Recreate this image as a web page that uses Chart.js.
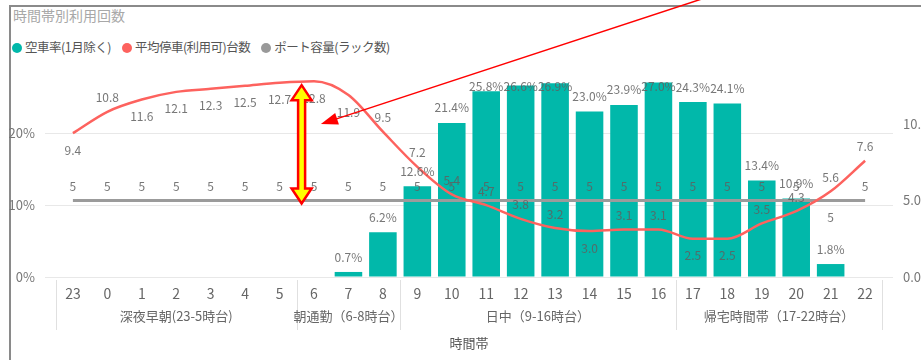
<!DOCTYPE html>
<html lang="ja">
<head>
<meta charset="utf-8">
<title>時間帯別利用回数</title>
<script src="https://cdn.jsdelivr.net/npm/chart.js@4.4.1/dist/chart.umd.min.js"></script>
<style>
  html, body { margin: 0; padding: 0; background: #fff; width: 921px; height: 360px; overflow: hidden; }
  #frame { position: absolute; left: 9px; top: 5px; width: 1000px; height: 400px; border-left: 2px solid #8a8a8a; border-top: 2px solid #8a8a8a; }
  #title { position: absolute; left: 13px; top: 5px; line-height: 20px; font: 14px "Noto Sans CJK JP"; color: #a8a8a8; }
  #legend { position: absolute; left: 12px; top: 38px; display: flex; gap: 11px; }
  .lg { line-height: 18px; font-size: 12.5px; letter-spacing: -0.5px; font-family: "Noto Sans CJK JP"; color: #555; white-space: nowrap; }
  .lg i { display: inline-block; width: 10px; height: 10px; border-radius: 50%; margin-right: 3px; vertical-align: -1px; }
  #chart { position: absolute; left: 0; top: 0; }
</style>
</head>
<body>
<div id="frame"></div>
<div id="title">時間帯別利用回数</div>
<div id="legend">
  <div class="lg"><i style="background:#01B8AA"></i>空車率(1月除く)</div>
  <div class="lg"><i style="background:#FD625E"></i>平均停車(利用可)台数</div>
  <div class="lg"><i style="background:#999"></i>ポート容量(ラック数)</div>
</div>
<canvas id="chart" width="935" height="360"></canvas>
<script>
const FONT = '"Noto Sans CJK JP", "Noto Sans", sans-serif';

// 時間帯 (23時〜22時)
const hours = ['23', '0', '1', '2', '3', '4', '5', '6', '7', '8', '9', '10', '11',
  '12', '13', '14', '15', '16', '17', '18', '19', '20', '21', '22'];

// 空車率(1月除く) %
const vacancyRate = [null, null, null, null, null, null, null, null, 0.7, 6.2, 12.6, 21.4,
  25.8, 26.6, 26.9, 23.0, 23.9, 27.0, 24.3, 24.1, 13.4, 10.9, 1.8, null];

// 平均停車(利用可)台数
const avgParked = [9.4, 10.8, 11.6, 12.1, 12.3, 12.5, 12.7, 12.8, 11.9, 9.5, 7.2, 5.4,
  4.7, 3.8, 3.2, 3.0, 3.1, 3.1, 2.5, 2.5, 3.5, 4.3, 5.6, 7.6];

// ポート容量(ラック数)
const portCapacity = [5, 5, 5, 5, 5, 5, 5, 5, 5, 5, 5, 5,
  5, 5, 5, 5, 5, 5, 5, 5, 5, 5, 5, 5];

// 時間帯グループ
const groupLabels = ['深夜早朝(23-5時台)', '朝通勤（6-8時台）', '日中（9-16時台）', '帰宅時間帯（17-22時台）'];
const groupFirstHour = ['23', '6', '9', '17'];

const leftTicks = [0, 10, 20];
const rightTicks = [0, 5, 10];

// labels that sit under the point instead of above
const parkedBelow = ['23', '1', '2', '3', '4', '5', '6', '7', '14', '17', '18'];
const capacityBelow = ['21'];

const toXY = arr => arr.map((v, i) => ({ x: i, y: v }));

// value labels for bars and both lines
const valueLabels = {
  id: 'valueLabels',
  afterDatasetsDraw(chart) {
    const { ctx, chartArea, scales: { x, y, y1 } } = chart;
    ctx.save();
    ctx.font = '12px ' + FONT;
    ctx.textAlign = 'center';
    ctx.textBaseline = 'middle';
    ctx.fillStyle = 'rgba(95,95,95,0.85)';
    hours.forEach((h, i) => {
      const px = x.getPixelForValue(i);
      const v = vacancyRate[i];
      if (v != null) {
        const top = y.getPixelForValue(v);
        ctx.fillText(v.toFixed(1) + '%', px, Math.max(top - 15, chartArea.top + 16));
      }
      const ay = y1.getPixelForValue(avgParked[i]);
      ctx.fillText(avgParked[i].toFixed(1), px, parkedBelow.includes(h) ? ay + 17 : ay - 14);
      const cy = y1.getPixelForValue(portCapacity[i]);
      ctx.fillText(String(portCapacity[i]), px, capacityBelow.includes(h) ? cy + 17 : cy - 14);
    });
    ctx.restore();
  }
};

// group separators and group names under the hour ticks
const hourGroups = {
  id: 'hourGroups',
  afterDraw(chart) {
    const { ctx, chartArea, scales: { x } } = chart;
    const starts = groupFirstHour.map(h => hours.indexOf(h));
    const edges = starts.concat([hours.length]);
    ctx.save();
    ctx.strokeStyle = '#e0e0e0';
    ctx.lineWidth = 1;
    edges.forEach(idx => {
      const px = Math.round(x.getPixelForValue(idx - 0.5)) + 0.5;
      ctx.beginPath();
      ctx.moveTo(px, chartArea.bottom + 3);
      ctx.lineTo(px, chartArea.bottom + 53);
      ctx.stroke();
    });
    ctx.font = '13px ' + FONT;
    ctx.fillStyle = '#666';
    ctx.textAlign = 'center';
    ctx.textBaseline = 'middle';
    groupLabels.forEach((label, g) => {
      const mid = (x.getPixelForValue(edges[g] - 0.5) + x.getPixelForValue(edges[g + 1] - 0.5)) / 2;
      ctx.fillText(label, mid, chartArea.bottom + 39);
    });
    ctx.restore();
  }
};

// highlight arrows: gap between average parked and rack count at 6時台
const arrows = {
  id: 'arrows',
  afterDraw(chart) {
    const { ctx, scales: { x, y1 } } = chart;
    ctx.save();

    const cx = x.getPixelForValue(6.64);
    const top = y1.getPixelForValue(avgParked[7]) + 4;
    const bottom = y1.getPixelForValue(portCapacity[7]) + 3;
    const hw = 10, sw = 3.5, hh = 15;
    ctx.beginPath();
    ctx.moveTo(cx, top);
    ctx.lineTo(cx + hw, top + hh);
    ctx.lineTo(cx + sw, top + hh);
    ctx.lineTo(cx + sw, bottom - hh);
    ctx.lineTo(cx + hw, bottom - hh);
    ctx.lineTo(cx, bottom);
    ctx.lineTo(cx - hw, bottom - hh);
    ctx.lineTo(cx - sw, bottom - hh);
    ctx.lineTo(cx - sw, top + hh);
    ctx.lineTo(cx - hw, top + hh);
    ctx.closePath();
    ctx.fillStyle = '#ffff00';
    ctx.fill();
    ctx.strokeStyle = '#ff0000';
    ctx.lineWidth = 2.5;
    ctx.lineJoin = 'miter';
    ctx.stroke();

    // pointer coming in from above
    const tx = x.getPixelForValue(7.2);
    const ty = y1.getPixelForValue(10);
    const dx = 390, dy = -128;
    const len = Math.hypot(dx, dy);
    const ux = dx / len, uy = dy / len;
    ctx.strokeStyle = '#ff0000';
    ctx.lineWidth = 1.5;
    ctx.beginPath();
    ctx.moveTo(tx + ux * 14, ty + uy * 14);
    ctx.lineTo(tx + dx, ty + dy);
    ctx.stroke();
    const hl = 17, hwid = 6;
    ctx.beginPath();
    ctx.moveTo(tx, ty);
    ctx.lineTo(tx + ux * hl - uy * hwid, ty + uy * hl + ux * hwid);
    ctx.lineTo(tx + ux * hl + uy * hwid, ty + uy * hl - ux * hwid);
    ctx.closePath();
    ctx.fillStyle = '#ff0000';
    ctx.fill();
    ctx.restore();
  }
};

new Chart(document.getElementById('chart'), {
  type: 'bar',
  data: {
    datasets: [
      {
        type: 'line',
        label: '平均停車(利用可)台数',
        data: toXY(avgParked),
        yAxisID: 'y1',
        borderColor: '#FD625E',
        borderWidth: 2.5,
        pointRadius: 0,
        cubicInterpolationMode: 'monotone',
        order: 0
      },
      {
        type: 'line',
        label: 'ポート容量(ラック数)',
        data: toXY(portCapacity),
        yAxisID: 'y1',
        borderColor: '#9b9b9b',
        borderWidth: 3,
        pointRadius: 0,
        order: 1
      },
      {
        type: 'bar',
        label: '空車率(1月除く)',
        data: toXY(vacancyRate),
        yAxisID: 'y',
        backgroundColor: '#01B8AA',
        barPercentage: 0.8,
        categoryPercentage: 1,
        order: 2
      }
    ]
  },
  options: {
    responsive: false,
    animation: false,
    devicePixelRatio: 1,
    layout: { padding: { top: 70, left: 0, right: 0, bottom: 0 } },
    plugins: { legend: { display: false }, tooltip: { enabled: false } },
    scales: {
      x: {
        type: 'linear',
        min: -0.81,
        max: 23.81,
        offset: false,
        grid: { display: false, drawTicks: false },
        border: { display: false },
        afterBuildTicks: s => { s.ticks = hours.map((h, i) => ({ value: i })); },
        afterFit: s => { s.height = 83; },
        ticks: {
          autoSkip: false,
          maxRotation: 0,
          padding: 8,
          color: '#666',
          font: { size: 14, family: FONT },
          callback: v => hours[v]
        },
        title: {
          display: true,
          text: '時間帯',
          color: '#555',
          font: { size: 13, family: FONT },
          padding: { top: 30, bottom: 9 }
        }
      },
      y: {
        position: 'left',
        min: 0,
        max: 28.75,
        afterBuildTicks: s => { s.ticks = leftTicks.map(v => ({ value: v })); },
        afterFit: s => { s.width = 45; },
        grid: { color: '#e8e8e8', drawTicks: false },
        border: { display: false },
        ticks: { padding: 10, color: '#777', font: { size: 13, family: FONT }, callback: v => v + '%' }
      },
      y1: {
        position: 'right',
        min: 0,
        max: 13.53,
        afterBuildTicks: s => { s.ticks = rightTicks.map(v => ({ value: v })); },
        afterFit: s => { s.width = 42; },
        grid: { display: false, drawTicks: false },
        border: { display: false },
        ticks: { padding: 10, color: '#777', font: { size: 13, family: FONT }, callback: v => v.toFixed(1) }
      }
    }
  },
  plugins: [valueLabels, hourGroups, arrows]
});
</script>
</body>
</html>
